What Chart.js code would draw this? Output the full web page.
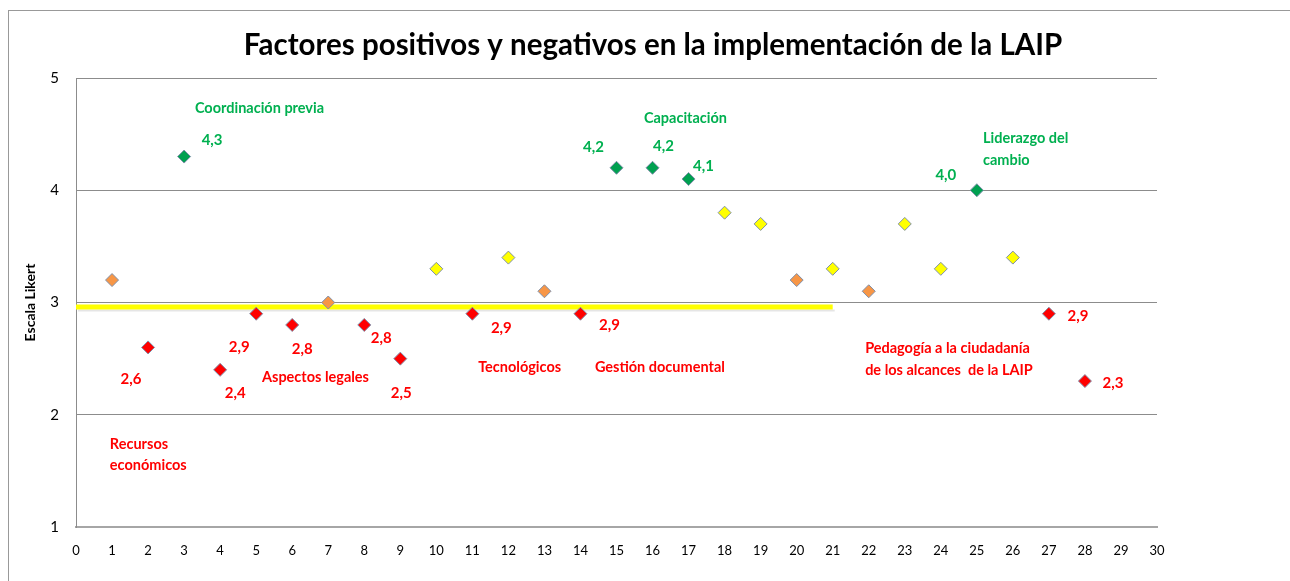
<!DOCTYPE html>
<html><head><meta charset="utf-8">
<script src="https://cdn.jsdelivr.net/npm/chart.js@4.4.1/dist/chart.umd.min.js"></script>
<style>html,body{margin:0;padding:0;background:#fff}#wrap{width:1290px;height:581px}</style>
</head><body><div id="wrap"><canvas id="c" width="1290" height="581"></canvas></div>
<script>
const titleText = 'Factores positivos y negativos en la implementación de la LAIP';
const yAxisTitle = 'Escala Likert';
const items = [1,2,3,4,5,6,7,8,9,10,11,12,13,14,15,16,17,18,19,20,21,22,23,24,25,26,27,28];
const scores = [3.2,2.6,4.3,2.4,2.9,2.8,3.0,2.8,2.5,3.3,2.9,3.4,3.1,2.9,4.2,4.2,4.1,3.8,3.7,3.2,3.3,3.1,3.7,3.3,4.0,3.4,2.9,2.3];
const kinds = ['mid','neg','pos','neg','neg','neg','mid','neg','neg','high','neg','high','mid','neg','pos','pos','pos','high','high','mid','high','mid','high','high','pos','high','neg','neg'];
const thresholdX = [0, 21];
const thresholdY = [2.96, 2.96];
const annotations = [
  {text:'Coordinación previa', x:3.3, y:4.73, kind:'pos'},
  {text:'Capacitación', x:15.76, y:4.64, kind:'pos'},
  {text:'Liderazgo del', x:25.17, y:4.46, kind:'pos'},
  {text:'cambio', x:25.17, y:4.27, kind:'pos'},
  {text:'Recursos', x:0.94, y:1.74, kind:'neg'},
  {text:'económicos', x:0.94, y:1.55, kind:'neg'},
  {text:'Aspectos legales', x:5.16, y:2.33, kind:'neg'},
  {text:'Tecnológicos', x:11.16, y:2.42, kind:'neg'},
  {text:'Gestión documental', x:14.4, y:2.42, kind:'neg'},
  {text:'Pedagogía a la ciudadanía', x:21.9, y:2.59, kind:'neg'},
  {text:'de los alcances  de la LAIP', x:21.9, y:2.40, kind:'neg'}
];
// pixel offsets of value labels (style)
const labelOffsets = {2:[-17,32],3:[28,-16],4:[15,23],5:[-17,33],6:[10,24],8:[17,13],9:[1,35],11:[29,14],14:[29,11],15:[-23,-21],16:[11,-22],17:[15,-13],25:[-31,-15],27:[29,2],28:[28,2]};

const fills = {mid:'#F79646', neg:'#FF0000', pos:'#00A050', high:'#FFFF00'};
const textCol = {pos:'#00B050', neg:'#FF0000'};
const FONT = 'Lato, "Open Sans", sans-serif';

const datasets = [{
  type:'line', label:'umbral', data: thresholdX.map((x,i)=>({x, y:thresholdY[i]})),
  borderColor:'#FFFF00', borderWidth:5, pointRadius:0, order:2
}];
['mid','high','neg','pos'].forEach(k=>{
  const d=[]; items.forEach((x,i)=>{ if(kinds[i]===k) d.push({x, y:scores[i]}); });
  datasets.push({type:'scatter', label:k, data:d, pointStyle:'rectRot', pointRadius:6.5, pointHoverRadius:6.5,
    backgroundColor:fills[k], borderColor:'#7F8FA9', borderWidth:1, order:1});
});

const shadowLine = {
  id:'shadowLine',
  beforeDatasetsDraw(chart){
    const {ctx, scales:{x,y}} = chart;
    ctx.save();
    ctx.strokeStyle='rgba(0,0,0,0.10)'; ctx.lineWidth=2;
    ctx.beginPath();
    ctx.moveTo(x.getPixelForValue(thresholdX[0])+2, y.getPixelForValue(thresholdY[0])+3.5);
    ctx.lineTo(x.getPixelForValue(thresholdX[1])+2, y.getPixelForValue(thresholdY[1])+3.5);
    ctx.stroke(); ctx.restore();
  }
};
const labelsPlugin = {
  id:'labelsPlugin',
  afterDatasetsDraw(chart){
    const {ctx, scales:{x,y}} = chart;
    ctx.save();
    ctx.font = 'bold 15px '+FONT; ctx.textAlign='center'; ctx.textBaseline='middle';
    items.forEach((it,i)=>{
      const k=kinds[i]; if(k!=='pos' && k!=='neg') return;
      const off = labelOffsets[it]||[20,0];
      ctx.fillStyle = textCol[k];
      ctx.fillText(scores[i].toFixed(1).replace('.',','), x.getPixelForValue(it)+off[0], y.getPixelForValue(scores[i])+off[1]);
    });
    ctx.font = 'bold 14.5px '+FONT; ctx.textAlign='left';
    annotations.forEach(a=>{
      ctx.fillStyle = textCol[a.kind];
      ctx.fillText(a.text, x.getPixelForValue(a.x), y.getPixelForValue(a.y));
    });
    ctx.restore();
  },
  afterDraw(chart){
    const ctx=chart.ctx; ctx.save();
    ctx.font='bold 29.5px '+FONT; ctx.fillStyle='#000'; ctx.textAlign='center'; ctx.textBaseline='middle';
    ctx.fillText(titleText, 653, 45);
    ctx.strokeStyle='#999'; ctx.lineWidth=1;
    ctx.strokeRect(8.5,10.5,1300,600); ctx.restore();
  }
};

new Chart(document.getElementById('c'), {
  data:{datasets},
  options:{
    responsive:false, animation:false,
    layout:{padding:{left:22, right:133, top:78, bottom:10}},
    plugins:{
      legend:{display:false}, tooltip:{enabled:false}, title:{display:false}
    },
    scales:{
      x:{type:'linear', min:0, max:30,
        ticks:{stepSize:1, color:'#000', font:{family:FONT, size:13}, padding:16, maxRotation:0, autoSkip:false},
        grid:{display:false, drawTicks:false},
        border:{display:true, color:'#A6A6A6', width:2},
        afterFit(s){ s.height = 44; }
      },
      y:{type:'linear', min:1, max:5,
        ticks:{stepSize:1, color:'#000', font:{family:FONT, size:15}, padding:17},
        grid:{color:'#8C8C8C', lineWidth:1, drawTicks:false},
        border:{display:true, color:'#8C8C8C', width:1},
        title:{display:true, text:yAxisTitle, color:'#000', font:{family:FONT, size:14, weight:'bold'}, padding:{top:0,bottom:0}},
        afterFit(s){ s.width = 54; }
      }
    }
  },
  plugins:[shadowLine, labelsPlugin]
});
</script></body></html>
